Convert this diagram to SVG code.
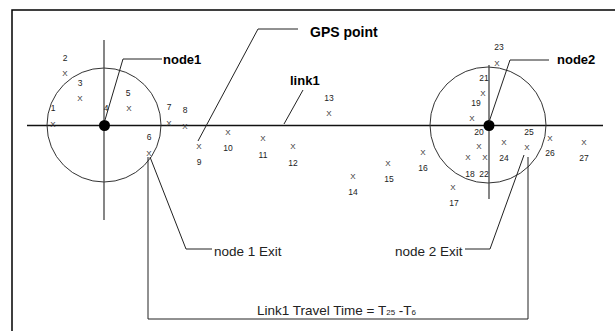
<svg xmlns="http://www.w3.org/2000/svg" width="615" height="331" viewBox="0 0 615 331">
<style>
.frame{fill:none;stroke:#000;stroke-width:1.5}
.axis{stroke:#111;stroke-width:1.3;fill:none}
.cross{stroke:#444;stroke-width:1.3;fill:none}
.ring{fill:none;stroke:#333;stroke-width:1}
.dot{fill:#000}
.lead{fill:none;stroke:#222;stroke-width:1}
.bl{font-family:"Liberation Sans",Arial,sans-serif;font-weight:bold;fill:#000}
.lbl{font-family:"Liberation Sans",Arial,sans-serif;font-size:13.5px;fill:#222}
.num{font-family:"Liberation Sans",Arial,sans-serif;font-size:8.5px;fill:#222;text-anchor:middle}
.x{font-family:"Liberation Sans",Arial,sans-serif;font-size:8px;fill:#333;text-anchor:middle}
</style>
<rect width="615" height="331" fill="#fff"/>
<rect class="frame" x="12" y="10" width="640" height="360"/>

<g id="link1">
<line class="axis" x1="27" y1="125.5" x2="603" y2="125.5"/>
<text class="bl" x="290" y="85" font-size="13">link1</text>
</g>

<g id="node1">
<circle class="ring" cx="104" cy="125" r="57"/>
<line class="cross" x1="104" y1="40" x2="104" y2="220"/>
<circle class="dot" cx="104.5" cy="125.5" r="5.5"/>
<text class="bl" x="163" y="64" font-size="13">node1</text>
</g>

<g id="node2">
<circle class="ring" cx="488" cy="125" r="58"/>
<line class="cross" x1="489" y1="65" x2="489" y2="199"/>
<circle class="dot" cx="489" cy="125.5" r="5.5"/>
<text class="bl" x="557" y="64" font-size="13">node2</text>
</g>

<g id="gps-label">
<text class="bl" x="310" y="37" font-size="14">GPS point</text>
</g>

<g id="gps-points">
<text class="num" x="53" y="111">1</text><text class="x" x="53" y="127">X</text>
<text class="num" x="65" y="61">2</text><text class="x" x="65" y="76">X</text>
<text class="num" x="80" y="86">3</text><text class="x" x="80" y="101">X</text>
<text class="num" x="106" y="111">4</text>
<text class="num" x="128" y="96">5</text><text class="x" x="129" y="111">X</text>
<text class="num" x="149" y="140">6</text><text class="x" x="149" y="156">X</text>
<text class="num" x="169" y="110">7</text><text class="x" x="169" y="126">X</text>
<text class="num" x="185" y="113">8</text><text class="x" x="185" y="129">X</text>
<text class="x" x="199" y="149">X</text><text class="num" x="199" y="165">9</text>
<text class="x" x="228" y="135">X</text><text class="num" x="228" y="151">10</text>
<text class="x" x="263" y="141">X</text><text class="num" x="263" y="158">11</text>
<text class="x" x="293" y="149">X</text><text class="num" x="293" y="166">12</text>
<text class="num" x="329" y="101">13</text><text class="x" x="329" y="116">X</text>
<text class="x" x="353" y="179">X</text><text class="num" x="353" y="195">14</text>
<text class="x" x="388" y="166">X</text><text class="num" x="389" y="182">15</text>
<text class="x" x="423" y="155">X</text><text class="num" x="423" y="171">16</text>
<text class="x" x="453" y="190">X</text><text class="num" x="454" y="206">17</text>
<text class="x" x="468" y="160">X</text><text class="num" x="470" y="177">18</text>
<text class="x" x="483" y="96">X</text><text class="num" x="476" y="106">19</text>
<text class="x" x="472" y="121">X</text><text class="num" x="479" y="135">20</text>
<text class="num" x="484" y="81">21</text>
<text class="x" x="485" y="160">X</text><text class="num" x="484" y="177">22</text>
<text class="num" x="499" y="50">23</text><text class="x" x="497" y="66">X</text>
<text class="x" x="479" y="149">X</text>
<text class="x" x="504" y="145">X</text><text class="num" x="504" y="161">24</text>
<text class="num" x="529" y="135">25</text><text class="x" x="527" y="150">X</text>
<text class="x" x="550" y="141">X</text><text class="num" x="550" y="156">26</text>
<text class="x" x="584" y="145">X</text><text class="num" x="584" y="161">27</text>
</g>

<g id="connectors">
<polyline class="lead" points="105,120 123,59 162,59"/>
<polyline class="lead" points="489,122 510,60 549,60"/>
<polyline class="lead" points="198,141 258,29 298,29"/>
<polyline class="lead" points="284,124 303,90"/>
<polyline class="lead" points="150,157 186,249 212,249"/>
<polyline class="lead" points="524,155 490,249 465,249"/>
<polyline class="lead" points="148,157 148,319 528,319 528,157"/>
</g>

<g id="exit-labels">
<text class="lbl" x="214" y="256">node 1 Exit</text>
<text class="lbl" x="395" y="256">node 2 Exit</text>
<text class="lbl" x="257" y="315">Link1 Travel Time = T<tspan font-size="8">25</tspan> -T<tspan font-size="8">6</tspan></text>
</g>
</svg>
